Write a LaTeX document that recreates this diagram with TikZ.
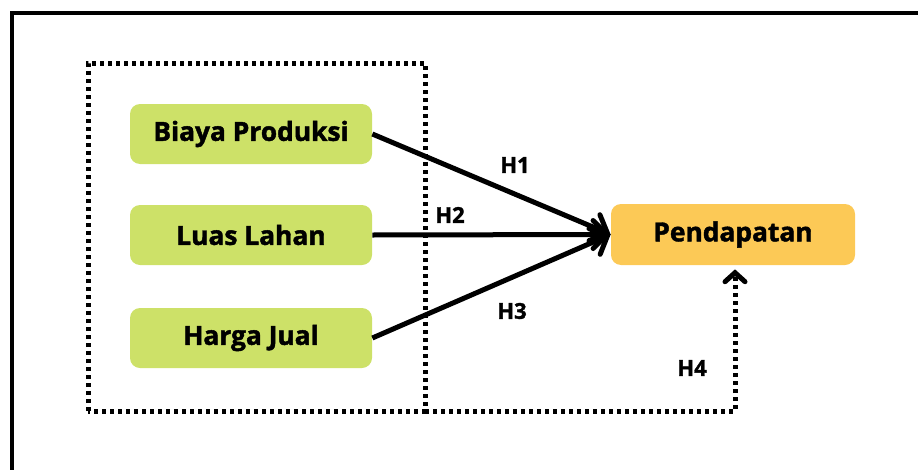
\documentclass[tikz,border=0pt]{standalone}
\usepackage{fontspec}
\setmainfont{Open Sans}[BoldFeatures={FakeBold=1.6}]
\usepackage{tikz}
\usetikzlibrary{arrows,arrows.meta}
\usetikzlibrary{calc}
\definecolor{hijau}{RGB}{205,225,104}
\definecolor{kuning}{RGB}{252,201,86}
\tikzset{
	varbox/.style={rounded corners=0.2cm, minimum width=4.84cm, minimum height=1.2cm, font=\fontsize{15}{18}\selectfont\bfseries, inner sep=0pt},
	hlabel/.style={font=\fontsize{12.5}{15}\selectfont\bfseries},
	titik/.style={line width=0.1cm, dash pattern=on 0.08cm off 0.08cm}
}

\begin{document}
\begin{tikzpicture}

	\useasboundingbox (0,0) rectangle (18.36,9.40);

	% frame
	\draw[line width=0.09cm] (18.36,9.14) -- (0.24,9.14) -- (0.24,0);

	% group of independent variables
	\draw[titik] (1.76,1.18) rectangle (8.50,8.14);
	\coordinate (pojok) at (8.50,1.18);

	\node[varbox, fill=hijau] (biaya) at (5.02,6.72) {Biaya Produksi};
	\node[varbox, fill=hijau] (luas) at (5.02,4.70) {Luas Lahan};
	\node[varbox, fill=hijau] (harga) at (5.02,2.64) {Harga Jual};
	\node[varbox, fill=kuning, minimum width=4.88cm, minimum height=1.22cm] (pendapatan) at (14.66,4.71) {Pendapatan};

	\draw[line width=0.1cm, -{Straight Barb[length=0.28cm, width=0.56cm, line cap=round]}] (biaya.east) -- (pendapatan.west);
	\draw[line width=0.1cm, -{Straight Barb[length=0.28cm, width=0.56cm, line cap=round]}] (luas.east) -- (pendapatan.west);
	\draw[line width=0.1cm, -{Straight Barb[length=0.28cm, width=0.56cm, line cap=round]}] (harga.east) -- (pendapatan.west);
	\draw[titik, -{Straight Barb[length=0.18cm, width=0.4cm, line cap=round]}, shorten >=0.08cm] (pojok) -| ($(pendapatan.south)+(0.04,0)$);

	\node[hlabel] (h1) at (10.30,6.10) {H1};
	\node[hlabel] (h2) at (9.00,5.10) {H2};
	\node[hlabel] (h3) at (10.24,3.18) {H3};
	\node[hlabel] (h4) at (13.84,2.04) {H4};

\end{tikzpicture}
\end{document}
